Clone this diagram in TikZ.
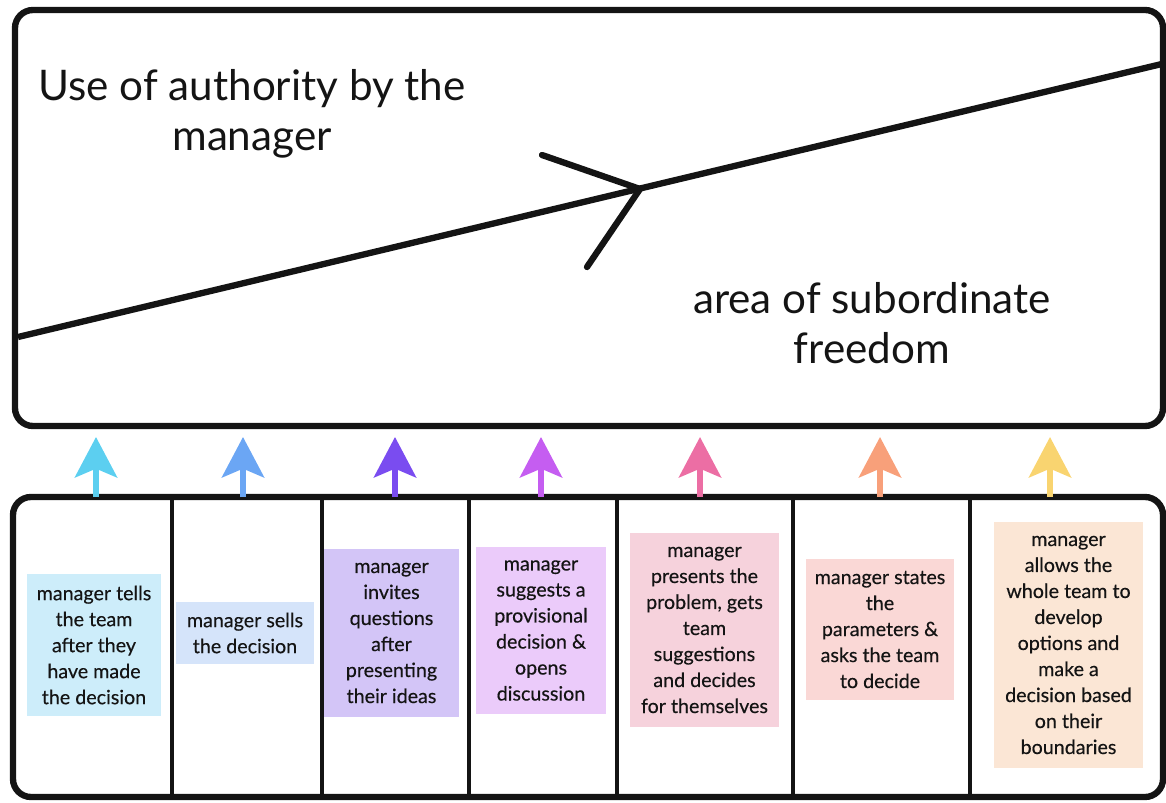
\documentclass[tikz,border=0pt]{standalone}
\usepackage{fontspec}
\setmainfont{Lato}
\newfontfamily\notefont{Lato}[FakeBold=0.35]
\usetikzlibrary{arrows.meta}

\definecolor{inkblack}{HTML}{141414}
\definecolor{arrcyan}{HTML}{5CCFF0}
\definecolor{arrblue}{HTML}{6BA6F4}
\definecolor{arrviolet}{HTML}{7A4CF0}
\definecolor{arrmagenta}{HTML}{C55DF1}
\definecolor{arrpink}{HTML}{EC6EA4}
\definecolor{arrorange}{HTML}{F8A07A}
\definecolor{arryellow}{HTML}{F9D470}
\definecolor{notecyan}{HTML}{CDEDFA}
\definecolor{noteblue}{HTML}{D5E4FA}
\definecolor{noteviolet}{HTML}{D3C5F7}
\definecolor{notemagenta}{HTML}{EBCBFA}
\definecolor{notepink}{HTML}{F6D2DC}
\definecolor{notesalmon}{HTML}{FAD8D6}
\definecolor{notepeach}{HTML}{FBE6D5}

\tikzset{
  chalk/.style={line width=1.8pt, inkblack, rounded corners=0.18cm},
  upar/.style={line width=1.7pt, -{Stealth[length=11.5pt,width=12pt,inset=2.5pt]}},
  bigtext/.style={font=\fontsize{12}{14.4}\selectfont, align=center, text=inkblack},
  note/.style={font=\notefont\fontsize{5.6}{7.4}\selectfont, align=center, text=inkblack, inner sep=0pt},
}

\begin{document}
\begin{tikzpicture}
\useasboundingbox (0,0) rectangle (11.66,8.02);

% top panel
\draw[chalk] (0.15,3.76) rectangle (11.63,7.92);
\draw[line width=1.8pt,inkblack] (0.18,4.65) -- (11.66,7.39);
\draw[line width=1.8pt,inkblack,line cap=round] (5.42,6.47) -- (6.40,6.13) -- (5.87,5.35);

\node[bigtext] (authority) at (2.52,6.88) {Use of authority by the\\manager};
\node[bigtext] (freedom) at (8.72,4.79) {area of subordinate\\freedom};

% bottom panel
\draw[chalk] (0.13,0.05) rectangle (11.63,3.05);
\draw[line width=1.2pt,inkblack] (1.72,0.05) -- (1.72,3.05);
\draw[line width=1.2pt,inkblack] (3.22,0.05) -- (3.22,3.05);
\draw[line width=1.2pt,inkblack] (4.69,0.05) -- (4.69,3.05);
\draw[line width=1.2pt,inkblack] (6.17,0.05) -- (6.17,3.05);
\draw[line width=1.2pt,inkblack] (7.93,0.05) -- (7.93,3.05);
\draw[line width=1.2pt,inkblack] (9.70,0.05) -- (9.70,3.05);

% the seven styles
\node[note,fill=notecyan,minimum width=1.34cm,minimum height=1.42cm] (tells) at (0.94,1.57)
  {manager tells\\the team\\after they\\have made\\the decision};
\node[note,fill=noteblue,minimum width=1.38cm,minimum height=0.62cm] (sells) at (2.45,1.69)
  {manager sells\\the decision};
\node[note,fill=noteviolet,minimum width=1.35cm,minimum height=1.68cm] (invites) at (3.915,1.69)
  {manager\\invites\\questions\\after\\presenting\\their ideas};
\node[note,fill=notemagenta,minimum width=1.30cm,minimum height=1.67cm] (suggests) at (5.41,1.715)
  {manager\\suggests a\\provisional\\decision \&\\opens\\discussion};
\node[note,fill=notepink,minimum width=1.49cm,minimum height=1.94cm] (presents) at (7.045,1.72)
  {manager\\presents the\\problem, gets\\team\\suggestions\\and decides\\for themselves};
\node[note,fill=notesalmon,minimum width=1.48cm,minimum height=1.41cm] (states) at (8.80,1.725)
  {manager states\\the\\parameters \&\\asks the team\\to decide};
\node[note,fill=notepeach,minimum width=1.49cm,minimum height=2.46cm] (allows) at (10.685,1.57)
  {manager\\allows the\\whole team to\\develop\\options and\\make a\\decision based\\on their\\boundaries};

% arrows up into the top panel
\coordinate (tellsfoot) at (0.96,3.05);    \coordinate (tellstip) at (0.96,3.65);
\coordinate (sellsfoot) at (2.43,3.05);    \coordinate (sellstip) at (2.43,3.65);
\coordinate (invitesfoot) at (3.95,3.05);  \coordinate (invitestip) at (3.95,3.65);
\coordinate (suggestsfoot) at (5.41,3.05); \coordinate (suggeststip) at (5.41,3.65);
\coordinate (presentsfoot) at (7.00,3.05); \coordinate (presentstip) at (7.00,3.65);
\coordinate (statesfoot) at (8.80,3.05);   \coordinate (statestip) at (8.80,3.65);
\coordinate (allowsfoot) at (10.50,3.05);  \coordinate (allowstip) at (10.50,3.65);

\draw[upar,arrcyan] (tellsfoot) -- (tellstip);
\draw[upar,arrblue] (sellsfoot) -- (sellstip);
\draw[upar,arrviolet] (invitesfoot) -- (invitestip);
\draw[upar,arrmagenta] (suggestsfoot) -- (suggeststip);
\draw[upar,arrpink] (presentsfoot) -- (presentstip);
\draw[upar,arrorange] (statesfoot) -- (statestip);
\draw[upar,arryellow] (allowsfoot) -- (allowstip);

\end{tikzpicture}
\end{document}
